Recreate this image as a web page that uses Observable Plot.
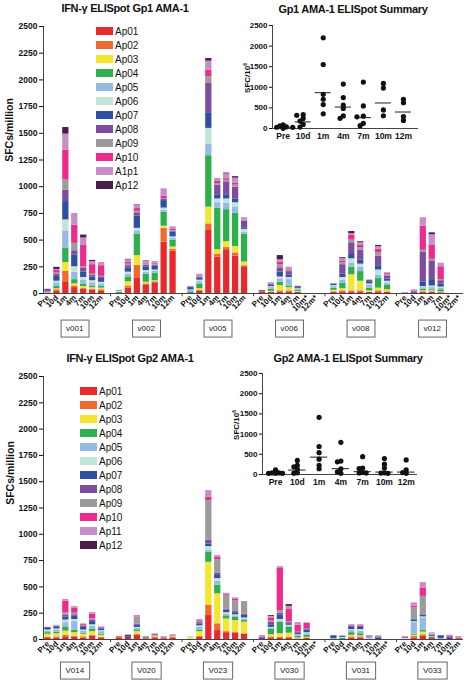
<!DOCTYPE html>
<html><head><meta charset="utf-8">
<script src="https://cdn.jsdelivr.net/npm/d3@7"></script>
<script src="https://cdn.jsdelivr.net/npm/@observablehq/plot@0.6"></script>
<style>
body{margin:0;background:#fff;font-family:"Liberation Sans",Arial,sans-serif;}
#root{position:relative;width:466px;height:683px;overflow:hidden;background:#fff;}
.title{font-weight:bold;font-size:11px;text-align:center;width:240px;white-space:nowrap;letter-spacing:-0.3px;color:#111;}
.vlabel{font-weight:bold;white-space:nowrap;color:#111;transform:translate(-50%,-50%) rotate(-90deg);}
.legend{font-size:10px;color:#111;font-family:"Liberation Sans Narrow","Liberation Sans",Arial,sans-serif;}
.legend .row{display:flex;align-items:center;height:14px;}
.legend .sw{width:17px;height:8px;margin-right:2px;}
svg{overflow:visible;}
</style></head><body><div id="root"></div>
<script>
// ---------- data ----------
const peptides = ["Ap01","Ap02","Ap03","Ap04","Ap05","Ap06","Ap07","Ap08","Ap09","Ap10","Ap11","Ap12"];
const legendLabelsGp1 = ["Ap01","Ap02","Ap03","Ap04","Ap05","Ap06","Ap07","Ap08","Ap09","Ap10","A1p1","Ap12"];
const legendLabelsGp2 = ["Ap01","Ap02","Ap03","Ap04","Ap05","Ap06","Ap07","Ap08","Ap09","Ap10","Ap11","Ap12"];
const peptideColors = ["#e8292c","#f06a30","#f3e62c","#2db04b","#93bbe4","#c0e4d7","#2f4fa2","#7f4b9f","#9b9b9d","#ec2b8b","#c68dc8","#4b1e47"];
const timepoints = ["Pre","10d","1m","4m","7m","10m","12m"];
const yTicks = [0,250,500,750,1000,1250,1500,1750,2000,2250,2500];
const insetTicks = [0,500,1000,1500,2000,2500];

const gp1Volunteers = ["v001","v002","v005","v006","v008","v012"];
// rows: Pre,10d,1m,4m,7m,10m,12m ; columns: Ap01..Ap12 ; null = no sample (*)
const gp1_v001 = [
  [5,0,0,0,10,0,0,25,0,0,0,0],
  [20,15,10,20,35,15,45,20,10,25,10,20],
  [103,103,84,131,165,103,172,106,97,278,150,62],
  [55,15,20,40,70,50,110,40,70,170,110,0],
  [40,10,15,20,40,25,50,40,10,200,70,27],
  [30,10,15,15,30,20,35,15,10,90,30,10],
  [25,10,15,15,25,15,35,10,10,100,30,0]];
const gp1_v002 = [
  [0,0,0,10,0,10,0,0,10,0,0,0],
  [50,20,40,40,30,20,40,20,15,15,25,5],
  [140,125,90,200,30,25,115,30,15,25,30,5],
  [75,15,15,75,20,15,35,15,10,10,15,5],
  [100,10,10,70,20,10,35,10,10,10,15,0],
  [480,130,20,130,20,20,70,10,10,20,70,0],
  [395,20,20,65,15,15,45,10,5,10,25,0]];
const gp1_v005 = [
  [0,0,0,15,20,0,20,7,0,0,0,0],
  [20,10,15,40,25,15,20,10,5,5,15,0],
  [590,62,156,482,109,147,140,281,62,62,84,25],
  [340,25,45,390,50,35,40,90,15,20,28,0],
  [410,20,55,300,60,40,40,120,15,15,45,8],
  [350,30,60,310,60,40,35,110,20,20,45,14],
  [250,10,35,260,20,25,15,60,5,5,25,0]];
const gp1_v006 = [
  [10,8,0,0,0,0,0,10,0,0,0,0],
  [10,0,10,20,15,10,15,10,0,0,10,0],
  [15,10,50,30,30,20,45,40,30,25,20,40],
  [10,15,30,15,60,20,25,30,15,10,17,0],
  [10,0,10,10,10,5,10,10,0,0,4,0],
  null,
  null];
const gp1_v008 = [
  [10,5,15,20,15,10,10,5,0,0,0,0],
  [15,10,20,50,30,25,30,90,20,15,20,10],
  [15,10,150,70,40,40,40,110,25,45,15,20],
  [15,10,90,90,40,30,40,90,25,25,20,10],
  [10,0,15,25,25,15,20,15,0,0,0,0],
  [15,10,25,90,30,50,40,90,30,35,25,10],
  [10,5,20,40,20,20,20,30,10,10,10,0]];
const gp1_v012 = [
  [0,0,0,0,0,0,0,5,0,0,0,0],
  [0,0,0,0,0,0,0,15,0,10,9,0],
  [10,5,10,15,15,10,40,280,20,225,80,0],
  [10,5,10,10,20,15,60,170,20,130,100,18],
  [5,5,5,20,15,10,30,30,10,120,34,0],
  null,
  null];
const gp1MeanLine = [30,160,870,520,265,620,400];

const gp2Volunteers = ["V014","V020","V023","V030","V031","V033"];
const gp2_V014 = [
  [10,10,30,15,15,10,15,10,0,0,0,0],
  [15,10,30,15,20,10,15,10,5,0,5,0],
  [25,15,40,40,40,25,30,15,25,110,15,0],
  [20,10,35,25,80,20,30,15,15,50,13,0],
  [15,10,25,10,20,10,25,15,5,10,4,0],
  [30,10,35,25,25,15,30,15,10,45,16,0],
  [15,5,20,10,25,10,15,10,0,7,0,0]];
const gp2_V020 = [
  [10,18,0,0,0,0,0,0,0,0,0,0],
  [10,0,0,0,0,0,10,10,0,0,0,11],
  [40,10,25,10,20,10,20,10,60,10,13,0],
  [8,0,0,0,0,0,0,0,20,0,0,0],
  [15,10,10,0,0,0,10,0,0,0,9,0],
  [8,0,0,0,0,0,0,0,0,0,20,0],
  [15,10,5,0,0,0,0,0,10,0,7,0]];
const gp2_V023 = [
  [0,0,15,0,0,13,0,0,0,0,0,0],
  [20,10,45,15,25,15,15,15,15,5,10,0],
  [228,95,411,95,22,32,25,38,374,31,64,0],
  [85,64,285,80,40,25,30,20,130,20,18,0],
  [65,10,120,30,15,15,25,10,130,10,10,0],
  [60,10,110,30,15,10,20,10,100,15,16,0],
  [50,5,110,15,15,10,25,10,115,5,1,0]];
const gp2_V030 = [
  [0,0,0,0,0,0,0,10,0,10,18,0],
  [15,10,20,50,10,10,25,25,15,20,20,8],
  [10,10,35,110,10,15,40,20,25,400,18,0],
  [10,10,40,55,10,10,15,10,10,115,30,17],
  [5,0,10,15,10,5,15,10,0,65,26,0],
  [10,0,10,20,15,10,25,10,0,55,3,0],
  null];
const gp2_V031 = [
  [0,0,0,0,10,0,20,8,0,0,0,0],
  [0,0,0,10,0,10,12,0,0,0,0,0],
  [15,10,15,25,20,10,20,10,5,5,7,0],
  [15,10,10,20,25,15,20,10,5,5,7,0],
  [0,0,0,0,0,8,0,0,10,0,20,0],
  [0,0,0,0,0,0,15,10,0,0,10,0],
  null];
const gp2_V033 = [
  [0,0,0,0,0,10,0,0,0,8,10,0],
  [15,15,10,10,110,10,15,5,110,15,33,0],
  [30,15,25,15,120,10,15,5,175,80,51,0],
  [10,0,0,10,10,0,10,0,13,0,10,0],
  [0,0,0,0,10,0,20,8,0,0,0,0],
  [0,0,0,0,0,0,10,10,0,8,13,0],
  [8,5,0,0,0,0,0,0,0,0,15,0]];
const gp2MeanLine = [30,110,430,145,70,60,60];

const gp1Data = [gp1_v001,gp1_v002,gp1_v005,gp1_v006,gp1_v008,gp1_v012];
const gp2Data = [gp2_V014,gp2_V020,gp2_V023,gp2_V030,gp2_V031,gp2_V033];

// ---------- helpers ----------
const root = document.getElementById("root");
const FONT = "'Liberation Sans', Arial, sans-serif";

function place(el, left, top) {
  el.style.position = "absolute"; el.style.left = left + "px"; el.style.top = top + "px";
  root.appendChild(el); return el;
}
function addTitle(text, cx, cy) {
  const d = document.createElement("div");
  d.className = "title"; d.textContent = text;
  place(d, cx - 120, cy - 7);
}
function addVLabel(html, cx, cy, size) {
  const d = document.createElement("div");
  d.className = "vlabel"; d.innerHTML = html; d.style.fontSize = size + "px";
  place(d, cx, cy);
}
function addLegend(labels, left, top) {
  const d = document.createElement("div"); d.className = "legend";
  labels.forEach((lab, i) => {
    const r = document.createElement("div"); r.className = "row";
    const s = document.createElement("div"); s.className = "sw"; s.style.background = peptideColors[i];
    const t = document.createElement("span"); t.textContent = lab;
    r.appendChild(s); r.appendChild(t); d.appendChild(r);
  });
  place(d, left, top);
}

function barChart(vols, data, opts) {
  const keys = [], gaps = [], labelOf = new Map();
  vols.forEach((v, i) => {
    if (i > 0) { const g = "gap" + i; keys.push(g); gaps.push(g); labelOf.set(g, ""); }
    timepoints.forEach((t, j) => { const k = v + "|" + t; keys.push(k); labelOf.set(k, data[i][j] ? t : t + "*"); });
  });
  const rows = [];
  vols.forEach((v, i) => timepoints.forEach((t, j) => {
    const vals = data[i][j]; if (!vals) return;
    peptides.forEach((p, k) => { if (vals[k] > 0) rows.push({key: v + "|" + t, peptide: p, value: vals[k]}); });
  }));
  const centers = vols.map(v => ({vol: v, key: v + "|4m"}));
  const svg = Plot.plot({
    width: 466, height: opts.height,
    marginLeft: 43, marginRight: 3, marginTop: opts.marginTop, marginBottom: opts.marginBottom,
    style: {fontFamily: FONT, fontSize: "8.5px", fontWeight: "bold", color: "#111", background: "transparent"},
    x: {domain: keys, paddingInner: 0.3, paddingOuter: 0.15, label: null},
    y: {domain: [0, 2500], label: null},
    color: {domain: peptides, range: peptideColors},
    marks: [
      Plot.barY(rows, {x: "key", y: "value", fill: "peptide"}),
      Plot.ruleY([0], {stroke: "#444", strokeWidth: 1}),
      Plot.frame({anchor: "left", stroke: "#444"}),
      Plot.ruleX(gaps, {x: d => d, y1: 0, y2: -30, stroke: "#444"}),
      Plot.axisY({ticks: yTicks, tickFormat: d => String(d), tickSize: 4, tickPadding: 2, label: null, fontSize: 8.5}),
      Plot.axisX({tickFormat: k => labelOf.get(k), tickRotate: -45, tickSize: 0, tickPadding: 3, fontSize: 8, label: null}),
      Plot.text(centers, {x: "key", y: 0, text: "vol", dy: opts.boxDy, fontSize: 8, fontWeight: "normal", fill: "#222"})
    ]
  });
  return svg;
}

function boxLabels(svg) {
  d3.select(svg).selectAll('g[aria-label="text"] text').each(function() {
    const b = this.getBBox();
    d3.select(this.parentNode).insert("rect", "text")
      .attr("transform", d3.select(this).attr("transform"))
      .attr("x", b.x - 5).attr("y", b.y - 4).attr("width", b.width + 10).attr("height", b.height + 8)
      .attr("fill", "none").attr("stroke", "#666").attr("stroke-width", 1);
  });
}

function insetChart(vols, data, meanLine, opts) {
  const pxX = opts.innerW / (opts.xDomain[1] - opts.xDomain[0]);
  const pxY = opts.innerH / 2500;
  const dots = [];
  timepoints.forEach((t, j) => {
    const vals = vols.map((v, i) => data[i][j]).filter(Boolean).map(a => d3.sum(a)).sort(d3.descending);
    const placed = [];
    vals.forEach(val => {
      let done = false;
      for (const off of [0, -0.16, 0.16, -0.32, 0.32, -0.48, 0.48]) {
        if (placed.every(p => Math.hypot((p.off - off) * pxX, (p.val - val) * pxY) >= 3.4)) { placed.push({off, val}); done = true; break; }
      }
      if (!done) placed.push({off: 0, val});
    });
    placed.forEach(p => dots.push({x: j + p.off, y: p.val}));
  });
  const means = meanLine.map((m, j) => ({x1: j - 0.4, x2: j + 0.4, y: m}));
  return Plot.plot({
    width: opts.width, height: opts.height,
    marginLeft: opts.marginLeft, marginRight: opts.marginRight, marginTop: opts.marginTop, marginBottom: opts.marginBottom,
    style: {fontFamily: FONT, fontSize: "8px", fontWeight: "bold", color: "#111", background: "transparent"},
    x: {domain: opts.xDomain, label: null},
    y: {domain: [0, 2500], label: null},
    marks: [
      Plot.ruleY([0], {stroke: "#444"}),
      Plot.ruleX([opts.xDomain[0]], {stroke: "#444"}),
      Plot.ruleY(means, {x1: "x1", x2: "x2", y: "y", stroke: "#333", strokeWidth: 1.1}),
      Plot.dot(dots, {x: "x", y: "y", r: 2.6, fill: "#111", stroke: "none"}),
      Plot.axisY({ticks: insetTicks, tickFormat: d => String(d), tickSize: 3, tickPadding: 2, label: null, fontSize: 8}),
      Plot.axisX({ticks: d3.range(7), tickFormat: i => timepoints[i], tickSize: 0, tickPadding: 4, fontSize: 8.5, label: null})
    ]
  });
}

// ---------- Gp1 ----------
const top1 = place(document.createElement("div"), 0, 0);
const svg1 = barChart(gp1Volunteers, gp1Data, {height: 340, marginTop: 26, marginBottom: 47, boxDy: 35});
top1.appendChild(svg1); boxLabels(svg1);
addTitle("IFN-γ ELISpot Gp1 AMA-1", 125, 9);
addVLabel("SFCs/million", 9, 130, 10.5);
addLegend(legendLabelsGp1, 96, 24);
const ins1 = insetChart(gp1Volunteers, gp1Data, gp1MeanLine, {width: 200, height: 126, marginLeft: 50, marginRight: 4, marginTop: 9, marginBottom: 14, xDomain: [-0.53, 6.75], innerW: 146, innerH: 103});
place(ins1, 222, 16);
addTitle("Gp1 AMA-1 ELISpot Summary", 353, 10);
addVLabel("SFC/10<sup style='font-size:5px'>6</sup>", 247, 78, 8);

// ---------- Gp2 ----------
const top2 = place(document.createElement("div"), 0, 340);
const svg2 = barChart(gp2Volunteers, gp2Data, {height: 343, marginTop: 36, marginBottom: 44, boxDy: 31});
top2.appendChild(svg2); boxLabels(svg2);
addTitle("IFN-γ ELISpot Gp2 AMA-1", 130, 359);
addVLabel("SFCs/million", 10, 473, 10.5);
addLegend(legendLabelsGp2, 80, 384);
const ins2 = insetChart(gp2Volunteers, gp2Data, gp2MeanLine, {width: 208, height: 123, marginLeft: 50, marginRight: 3, marginTop: 8, marginBottom: 14, xDomain: [-0.6, 6.52], innerW: 155, innerH: 100});
place(ins2, 212, 365);
addTitle("Gp2 AMA-1 ELISpot Summary", 348, 359);
addVLabel("SFC/10<sup style='font-size:5px'>6</sup>", 236, 425, 8);
</script></body></html>
